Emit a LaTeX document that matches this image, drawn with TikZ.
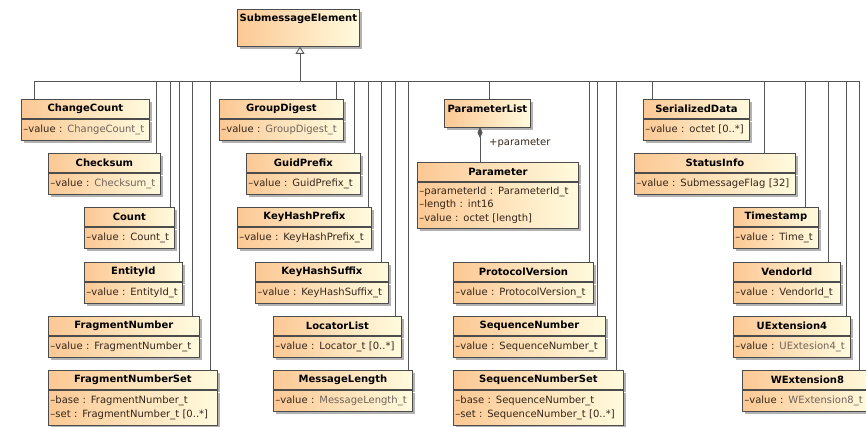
\documentclass[tikz,border=0pt]{standalone}
\usepackage{fontspec}
\setmainfont{DejaVu Sans}
\usetikzlibrary{arrows.meta,shadows}
\definecolor{peach}{RGB}{252,200,148}
\definecolor{cream}{RGB}{255,251,222}
\definecolor{ink}{RGB}{51,38,26}
\definecolor{dim}{RGB}{110,100,92}
\definecolor{wire}{RGB}{85,85,85}
\newcommand{\dimt}[1]{\textcolor{dim}{#1}}

\begin{document}
\begin{tikzpicture}[x=1pt,y=-1pt,
    box/.style={draw=black!70,line width=0.8pt,left color=peach,right color=cream,
      drop shadow={shadow xshift=3pt,shadow yshift=-3pt,fill=black,opacity=0.3},
      anchor=north west,inner sep=0pt},
    head/.style={box,minimum width=#1,minimum height=19pt,
      font=\fontsize{10}{12}\selectfont\bfseries},
    attrs/.style={box,text width=#1,minimum height=21pt,align=left,
      inner xsep=2pt,inner ysep=0pt,text=ink,font=\fontsize{10}{13.5}\selectfont},
    title/.style={anchor=north,minimum height=19pt,inner sep=0pt,
      font=\fontsize{10}{12}\selectfont\bfseries},
    link/.style={draw=wire,line width=0.8pt}]
        \useasboundingbox (0,0) rectangle (866,427);

        % root
        \node[box,minimum width=122pt,minimum height=37pt] (se) at (237,9) {};
        \node[title] (se-t) at (se.north) {SubmessageElement};

        % left column
        \node[head=128pt] (cc) at (21,99) {ChangeCount};
        \node[attrs=124pt] (cc-a) at (cc.south west) {–value : \dimt{ChangeCount\_t}};
        \node[head=112pt] (cs) at (48,153) {Checksum};
        \node[attrs=108pt] (cs-a) at (cs.south west) {–value : \dimt{Checksum\_t}};
        \node[head=90pt] (cn) at (84,207) {Count};
        \node[attrs=86pt] (cn-a) at (cn.south west) {–value : Count\_t};
        \node[head=98pt] (ei) at (84,262) {EntityId};
        \node[attrs=94pt] (ei-a) at (ei.south west) {–value : EntityId\_t};
        \node[head=151pt] (fn) at (48,316) {FragmentNumber};
        \node[attrs=147pt] (fn-a) at (fn.south west) {–value : FragmentNumber\_t};
        \node[head=169pt] (fs) at (48,370) {FragmentNumberSet};
        \node[attrs=165pt,minimum height=35pt] (fs-a) at (fs.south west)
            {–base : FragmentNumber\_t\\–set : FragmentNumber\_t [0..*]};

        % second column
        \node[head=124pt] (gd) at (219,99) {GroupDigest};
        \node[attrs=120pt] (gd-a) at (gd.south west) {–value : \dimt{GroupDigest\_t}};
        \node[head=114pt] (gp) at (246,153) {GuidPrefix};
        \node[attrs=110pt] (gp-a) at (gp.south west) {–value : GuidPrefix\_t};
        \node[head=134pt] (kp) at (237,207) {KeyHashPrefix};
        \node[attrs=130pt] (kp-a) at (kp.south west) {–value : KeyHashPrefix\_t};
        \node[head=133pt] (ks) at (255,262) {KeyHashSuffix};
        \node[attrs=129pt] (ks-a) at (ks.south west) {–value : KeyHashSuffix\_t};
        \node[head=128pt] (ll) at (273,316) {LocatorList};
        \node[attrs=124pt] (ll-a) at (ll.south west) {–value : Locator\_t [0..*]};
        \node[head=139pt] (ml) at (273,370) {MessageLength};
        \node[attrs=135pt] (ml-a) at (ml.south west) {–value : \dimt{MessageLength\_t}};

        % third column
        \node[box,minimum width=86pt,minimum height=28pt] (pl) at (444,99) {};
        \node[title] (pl-t) at (pl.north) {ParameterList};
        \node[head=161pt] (pm) at (417,162) {Parameter};
        \node[attrs=157pt,minimum height=46pt] (pm-a) at (pm.south west)
            {–parameterId : ParameterId\_t\\–length : int16\\–value : octet [length]};
        \node[head=140pt] (pv) at (453,262) {ProtocolVersion};
        \node[attrs=136pt] (pv-a) at (pv.south west) {–value : ProtocolVersion\_t};
        \node[head=152pt] (sn) at (453,316) {SequenceNumber};
        \node[attrs=148pt] (sn-a) at (sn.south west) {–value : SequenceNumber\_t};
        \node[head=170pt] (ss) at (453,370) {SequenceNumberSet};
        \node[attrs=166pt,minimum height=35pt] (ss-a) at (ss.south west)
            {–base : SequenceNumber\_t\\–set : SequenceNumber\_t [0..*]};

        % right column
        \node[head=106pt] (sd) at (643,99) {SerializedData};
        \node[attrs=102pt] (sd-a) at (sd.south west) {–value : octet [0..*]};
        \node[head=161pt] (si) at (634,153) {StatusInfo};
        \node[attrs=157pt] (si-a) at (si.south west) {–value : SubmessageFlag [32]};
        \node[head=85pt] (ts) at (733,207) {Timestamp};
        \node[attrs=81pt] (ts-a) at (ts.south west) {–value : Time\_t};
        \node[head=107pt] (vi) at (733,262) {VendorId};
        \node[attrs=103pt] (vi-a) at (vi.south west) {–value : VendorId\_t};
        \node[head=117pt] (ue) at (733,316) {UExtension4};
        \node[attrs=113pt] (ue-a) at (ue.south west) {–value : \dimt{UExtesion4\_t}};
        \node[head=130pt] (we) at (742,370) {WExtension8};
        \node[attrs=126pt] (we-a) at (we.south west) {–value : \dimt{WExtension8\_t}};

        % generalisation tree
        \coordinate (t-cc) at (34,81);
        \coordinate (t-we) at (859,81);
        \coordinate (t-se) at (300,81);
        \draw[link] (t-cc) -- (t-we);
        \draw[link,-{Triangle[open,length=7pt,width=9pt]}] (t-se) -- (t-se |- se.south);
        \draw[link] (t-cc) -- (t-cc |- cc.north);
        \coordinate (t-cs) at (156,81);
        \draw[link] (t-cs) -- (t-cs |- cs.north);
        \coordinate (t-cn) at (170,81);
        \draw[link] (t-cn) -- (t-cn |- cn.north);
        \coordinate (t-ei) at (179,81);
        \draw[link] (t-ei) -- (t-ei |- ei.north);
        \coordinate (t-fn) at (192,81);
        \draw[link] (t-fn) -- (t-fn |- fn.north);
        \coordinate (t-fs) at (210,81);
        \draw[link] (t-fs) -- (t-fs |- fs.north);
        \coordinate (t-gd) at (336,81);
        \draw[link] (t-gd) -- (t-gd |- gd.north);
        \coordinate (t-gp) at (354,81);
        \draw[link] (t-gp) -- (t-gp |- gp.north);
        \coordinate (t-kp) at (368,81);
        \draw[link] (t-kp) -- (t-kp |- kp.north);
        \coordinate (t-ks) at (381,81);
        \draw[link] (t-ks) -- (t-ks |- ks.north);
        \coordinate (t-ll) at (395,81);
        \draw[link] (t-ll) -- (t-ll |- ll.north);
        \coordinate (t-ml) at (408,81);
        \draw[link] (t-ml) -- (t-ml |- ml.north);
        \coordinate (t-pl) at (489,81);
        \draw[link] (t-pl) -- (t-pl |- pl.north);
        \coordinate (t-pv) at (589,81);
        \draw[link] (t-pv) -- (t-pv |- pv.north);
        \coordinate (t-sn) at (597,81);
        \draw[link] (t-sn) -- (t-sn |- sn.north);
        \coordinate (t-ss) at (616,81);
        \draw[link] (t-ss) -- (t-ss |- ss.north);
        \coordinate (t-sd) at (652,81);
        \draw[link] (t-sd) -- (t-sd |- sd.north);
        \coordinate (t-si) at (764,81);
        \draw[link] (t-si) -- (t-si |- si.north);
        \coordinate (t-ts) at (805,81);
        \draw[link] (t-ts) -- (t-ts |- ts.north);
        \coordinate (t-vi) at (828,81);
        \draw[link] (t-vi) -- (t-vi |- vi.north);
        \coordinate (t-ue) at (846,81);
        \draw[link] (t-ue) -- (t-ue |- ue.north);
        \draw[link] (t-we) -- (t-we |- we.north);

        % composition
        \coordinate (c-pl) at (480,127);
        \draw[link,-{Diamond[length=11pt,width=5pt]}] (c-pl |- pm.north) -- (c-pl);
        \node[anchor=west,inner sep=0pt,text=ink,font=\fontsize{10}{12}\selectfont] (pm-r) at (489,143) {+parameter};
\end{tikzpicture}
\end{document}
